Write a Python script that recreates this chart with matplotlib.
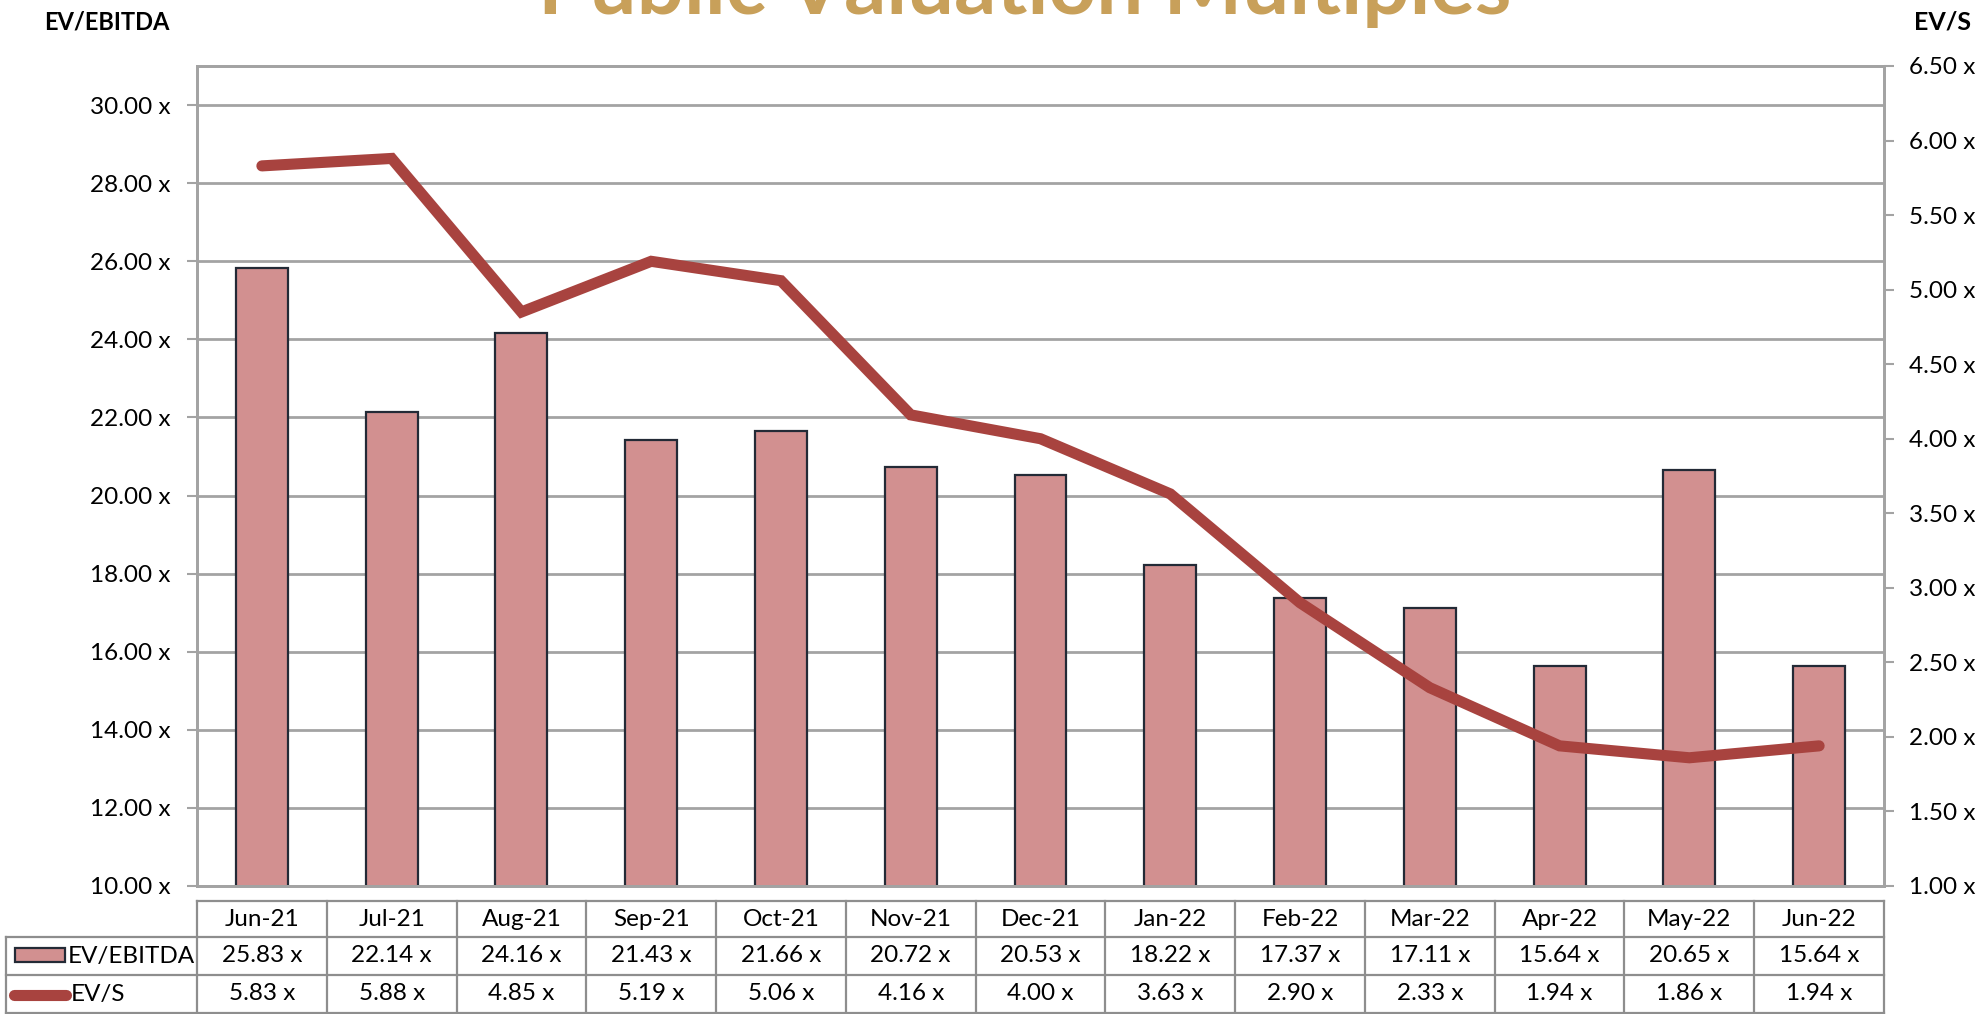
import matplotlib.pyplot as plt
import numpy as np
from matplotlib.patches import Rectangle
from matplotlib.lines import Line2D

plt.rcParams['font.family'] = ['Lato', 'DejaVu Sans']

# datos del grafico
meses = ["Jun-21", "Jul-21", "Aug-21", "Sep-21", "Oct-21", "Nov-21", "Dec-21",
         "Jan-22", "Feb-22", "Mar-22", "Apr-22", "May-22", "Jun-22"]
ev_ebitda = [25.83, 22.14, 24.16, 21.43, 21.66, 20.72, 20.53,
             18.22, 17.37, 17.11, 15.64, 20.65, 15.64]
ev_s = [5.83, 5.88, 4.85, 5.19, 5.06, 4.16, 4.00,
        3.63, 2.90, 2.33, 1.94, 1.86, 1.94]

color_barra = "#D29090"
borde_barra = "#232a36"
color_linea = "#A8433F"
gris = "#A3A3A3"
gris_tabla = "#8E8E8E"

W, H = 1985, 1014
fig = plt.figure(figsize=(W / 100, H / 100), dpi=100)
ax = fig.add_axes([197 / W, 1 - 886 / H, 1687 / W, 820 / H])

x = np.arange(len(meses))

# barras EV/EBITDA
ax.bar(x, ev_ebitda, width=0.4, color=color_barra, edgecolor=borde_barra,
       linewidth=1.6, zorder=2)
ax.set_xlim(-0.5, len(meses) - 0.5)
ax.set_ylim(10, 31)
ax.set_yticks(np.arange(10, 31, 2))
ax.set_yticklabels([f"{v:.2f} x" for v in np.arange(10, 31, 2)])
ax.set_xticks([])
ax.set_axisbelow(True)
ax.yaxis.grid(True, color=gris, linewidth=2)
ax.tick_params(axis='y', direction='out', length=7, width=1.5, color=gris,
               pad=12, labelsize=17.5)
for s in ax.spines.values():
    s.set_color(gris)
    s.set_linewidth(2)

# linea EV/S en el eje derecho
ax2 = ax.twinx()
ax2.plot(x, ev_s, color=color_linea, linewidth=8, solid_capstyle='round',
         solid_joinstyle='miter', zorder=3)
ax2.set_ylim(1, 6.5)
ax2.set_yticks(np.arange(1, 6.51, 0.5))
ax2.set_yticklabels([f"{v:.2f} x" for v in np.arange(1, 6.51, 0.5)])
ax2.tick_params(axis='y', direction='out', length=7, width=1.5, color=gris,
                pad=11, labelsize=17.5)
for s in ax2.spines.values():
    s.set_color(gris)
    s.set_linewidth(2)

# titulos
fig.text(0.5164, 1 - 14 / H, "Public Valuation Multiples", color="#C8A05A",
         fontsize=60, fontweight='bold', ha='center', va='baseline')
fig.text(44 / W, 1 - 22 / H, "EV/EBITDA", fontsize=17, fontweight='bold',
         ha='left', va='center')
fig.text(1914 / W, 1 - 22 / H, "EV/S", fontsize=18, fontweight='bold',
         ha='left', va='center')

# tabla de datos debajo del grafico
tr = ax.get_xaxis_transform()
def fy(p):
    return (886 - p) / 820

y_top, y_h, y_r2, y_r3 = fy(901), fy(937), fy(975), fy(1013)
x_izq = -0.5 - 191 / (1687 / len(meses))
x_der = len(meses) - 0.5

kw = dict(color=gris_tabla, linewidth=1.6, transform=tr, clip_on=False)
ax.plot([-0.5, x_der], [y_top, y_top], **kw)
for yy in (y_h, y_r2, y_r3):
    ax.plot([x_izq, x_der], [yy, yy], **kw)
for b in np.arange(-0.5, len(meses), 1.0):
    ax.plot([b, b], [y_top, y_r3], **kw)
ax.plot([x_izq, x_izq], [y_h, y_r3], **kw)

for i, m in enumerate(meses):
    ax.text(i, (y_top + y_h) / 2, m, transform=tr, ha='center', va='center',
            fontsize=17.5)
    ax.text(i, (y_h + y_r2) / 2, f"{ev_ebitda[i]:.2f} x", transform=tr,
            ha='center', va='center', fontsize=17.5)
    ax.text(i, (y_r2 + y_r3) / 2, f"{ev_s[i]:.2f} x", transform=tr,
            ha='center', va='center', fontsize=17.5)

# leyenda dentro de la tabla
paso = 1687 / len(meses)
def fx(p):
    return (p - 197) / paso - 0.5

ax.add_patch(Rectangle((fx(15), fy(962)), fx(65) - fx(15), fy(948) - fy(962),
                       facecolor=color_barra, edgecolor=borde_barra,
                       linewidth=1.6, transform=tr, clip_on=False))
ax.text(fx(68), (y_h + y_r2) / 2, "EV/EBITDA", transform=tr, ha='left',
        va='center', fontsize=17.5)
ax.add_line(Line2D([fx(14), fx(66)], [fy(995), fy(995)], color=color_linea,
                   linewidth=8, solid_capstyle='round', transform=tr,
                   clip_on=False))
ax.text(fx(71), (y_r2 + y_r3) / 2, "EV/S", transform=tr, ha='left',
        va='center', fontsize=17.5)

fig.savefig("out.png", dpi=100)
